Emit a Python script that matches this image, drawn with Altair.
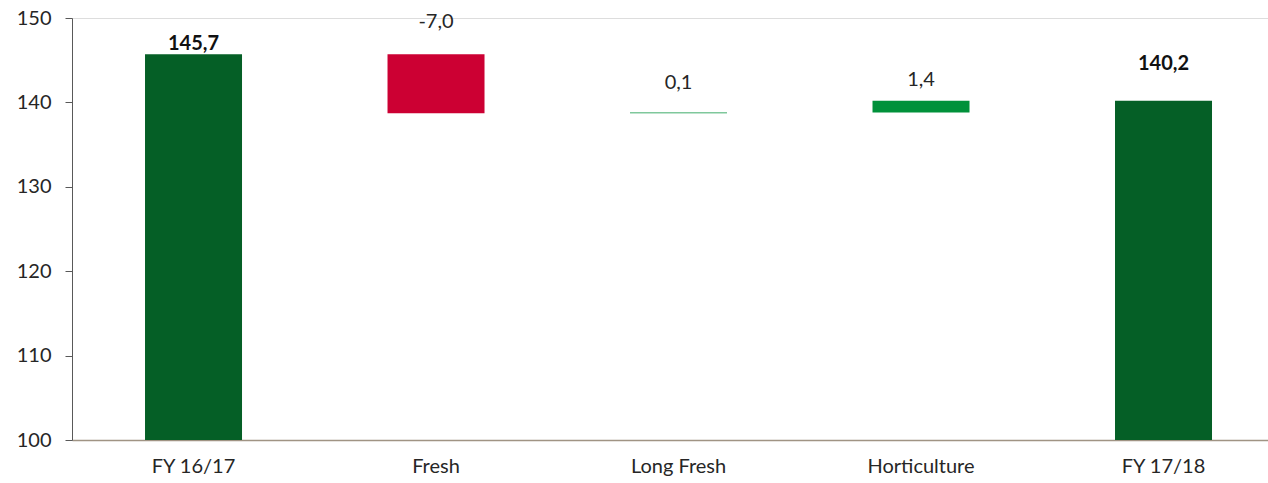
import altair as alt
import pandas as pd

# Net sales bridge, FY 16/17 -> FY 17/18
categories = ["FY 16/17", "Fresh", "Long Fresh", "Horticulture", "FY 17/18"]
values = [145.7, -7.0, 0.1, 1.4, 140.2]
kinds = ["total", "delta", "delta", "delta", "total"]

# running base for the floating bars
rows = []
running = 0.0
for cat, val, kind in zip(categories, values, kinds):
    if kind == "total":
        lo, hi = 100.0, val
        running = val
        sign = "total"
    else:
        start = running
        running = round(running + val, 4)
        lo, hi = min(start, running), max(start, running)
        sign = "neg" if val < 0 else "pos"
    label = f"{val:.1f}".replace(".", ",")
    rows.append({"cat": cat, "lo": lo, "hi": hi, "sign": sign, "label": label, "kind": kind})
df = pd.DataFrame(rows)

FONT = "Lato"
TEXT = "#262626"
label_dy = {"FY 16/17": -10, "Fresh": -32, "Long Fresh": -30, "Horticulture": -21, "FY 17/18": -37}

x_enc = alt.X(
    "cat:N",
    sort=categories,
    title=None,
    scale=alt.Scale(paddingInner=0.6, paddingOuter=0.266, align=0.566),
    axis=alt.Axis(
        labelAngle=0, ticks=False, labelPadding=16, labelFontSize=20,
        labelColor=TEXT, labelFont=FONT, domainColor="#A09484", domainWidth=1.5,
    ),
)

bars = alt.Chart(df).mark_bar().encode(
    x=x_enc,
    y=alt.Y(
        "lo:Q", title=None,
        scale=alt.Scale(domain=[100, 150], nice=False, zero=False),
        axis=alt.Axis(
            values=[100, 110, 120, 130, 140, 150], grid=False, tickSize=7,
            tickColor="#595959", domainColor="#595959", labelFontSize=20,
            labelColor=TEXT, labelFont=FONT, labelPadding=14,
        ),
    ),
    y2="hi:Q",
    color=alt.Color(
        "sign:N", legend=None,
        scale=alt.Scale(domain=["total", "neg", "pos"], range=["#055F26", "#CC0033", "#00913A"]),
    ),
)

layers = [bars]
for cat in categories:
    bold = df.loc[df.cat == cat, "kind"].iloc[0] == "total"
    layers.append(
        alt.Chart(df[df.cat == cat]).mark_text(
            dy=label_dy[cat], fontSize=20, font=FONT,
            fontWeight="bold" if bold else "normal",
            color="#111111" if bold else TEXT, baseline="middle",
        ).encode(x=alt.X("cat:N", sort=categories), y="hi:Q", text="label:N")
    )

chart = alt.layer(*layers).properties(
    width=1196, height=422,
    autosize=alt.AutoSizeParams(type="none"),
    padding={"left": 72, "top": 18, "right": 0, "bottom": 43},
).configure_view(stroke=None).configure(background="white")

chart.save("out.html", embed_options={"renderer": "svg", "actions": False})
